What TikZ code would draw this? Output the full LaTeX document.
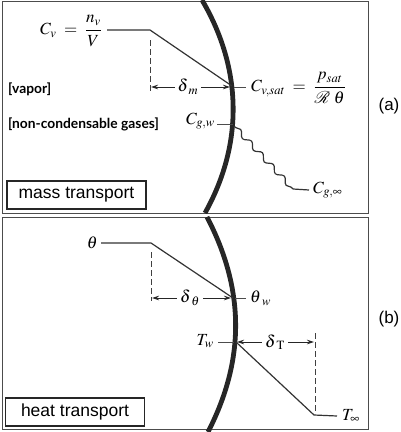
\documentclass[tikz,border=0pt]{standalone}
\usepackage{mathptmx}
\usepackage[no-math]{fontspec}
\setmainfont{Liberation Serif}
\setsansfont{Liberation Sans}
\newfontfamily\labfont{Lato}
\usetikzlibrary{decorations.pathmorphing,arrows.meta}
\begin{document}
\begin{tikzpicture}[x=1pt,y=-1pt,
  frame/.style={draw=black!70, line width=1pt},
  wall/.style={draw=black!85, line width=4.8pt},
  prof/.style={draw=black!80, line width=1.2pt},
  dimline/.style={draw=black!75, line width=0.8pt, dash pattern=on 6pt off 3pt},
  dimarrow/.style={draw=black!85, line width=0.8pt, -{Stealth[length=7pt,width=4.5pt]}},
  tick/.style={draw=black!70, line width=1pt},
  mth/.style={inner sep=0pt, font=\fontsize{17}{19}\selectfont},
  lab/.style={inner sep=0pt, anchor=west, font=\labfont\bfseries\fontsize{13.8}{15}\selectfont},
  tbox/.style={draw=black!85, line width=1.2pt, inner sep=0pt, minimum width=139pt, minimum height=28pt, font=\sffamily\fontsize{17.5}{19}\selectfont},
  panel/.style={inner sep=0pt, font=\sffamily\fontsize{17}{19}\selectfont}]
\useasboundingbox (0,0) rectangle (400,432);
% frames
\draw[frame] (2,1) rectangle (368,213);
\draw[frame] (2,217) rectangle (368,429);
% walls
\draw[wall] (202,0) .. controls (243,70) and (243,145) .. (205,213);
\draw[wall] (207,217) .. controls (245,290) and (245,360) .. (208,432);

% ---------- panel (a)
\node[mth, anchor=east] (cv) at (102,31) {$\displaystyle C_v \;=\; \frac{n_v}{V}$};
\coordinate (cvL) at (107,30);
\coordinate (cvK) at (150,30);
\coordinate (cvW) at (232,86);
\draw[prof] (cvL) -- (cvK) -- (cvW);
\coordinate (dmT) at (150,40);
\coordinate (dmB) at (150,93);
\draw[dimline] (dmT) -- (dmB);
\node[mth] (dm) at (188,87) {$\delta\kern0.5pt_m$};
\coordinate (dmL) at (151,87);
\coordinate (dmR) at (230,87);
\draw[dimarrow] (dm.west) ++(-3,0) coordinate (dmA) (dmA) -- (dmL);
\draw[dimarrow] (dm.east) ++(3,0) coordinate (dmC) (dmC) -- (dmR);
\node[mth, anchor=west] (cvsat) at (251,88) {$\displaystyle C_{v,sat} \;=\; \frac{p_{sat}}{\mathcal{R}\;\theta}$};
\coordinate (cvsW) at (234,87);
\draw[tick] (cvsW) -- (246,87);

\node[lab] (vap) at (8,89) {[vapor]};
\node[lab] (ncg) at (8,124) {[non-condensable gases]};

\node[mth, anchor=east] (cgw) at (215,121) {$C_{g,w}$};
\coordinate (gwT) at (217,124);
\coordinate (gwW) at (233,124);
\draw[tick] (gwT) -- (gwW);
\coordinate (gw0) at (234,126);
\coordinate (gw1) at (293,189);
\node[mth, anchor=west] (cginf) at (313,190) {$C_{g,\infty}$};
\draw[prof, decorate, decoration={snake, amplitude=2.5pt, segment length=16pt, pre length=2pt, post length=2pt}] (gw0) -- (gw1);
\draw[prof] (gw1) -- ([xshift=-4pt]cginf.west);

\node[tbox] (mt) at (76.5,195) {mass transport};
\node[panel] (pa) at (389,106) {(a)};

% ---------- panel (b)
\node[mth, anchor=east] (th) at (98,243) {$\theta$};
\coordinate (thL) at (101,243);
\coordinate (thK) at (151,243);
\coordinate (thW) at (233,298);
\draw[prof] (thL) -- (thK) -- (thW);
\coordinate (dtT) at (151,252);
\coordinate (dtB) at (151,301);
\draw[dimline] (dtT) -- (dtB);
\node[mth] (dt) at (190,298) {$\delta\kern1pt_\theta$};
\coordinate (dtL) at (152,298);
\coordinate (dtR) at (231,298);
\draw[dimarrow] (dt.west) ++(-3,0) coordinate (dtA) (dtA) -- (dtL);
\draw[dimarrow] (dt.east) ++(3,0) coordinate (dtC) (dtC) -- (dtR);
\node[mth, anchor=west] (thw) at (250,298) {$\theta\kern1pt_w$};
\coordinate (thwW) at (235,298);
\draw[tick] (thwW) -- (246,298);

\node[mth, anchor=east] (tw) at (214,341) {$T_w$};
\coordinate (twT) at (218,342);
\coordinate (twW) at (234,342);
\draw[tick] (twT) -- (twW);
\coordinate (tK) at (236,342);
\coordinate (tE) at (314,415);
\node[mth, anchor=west] (tinf) at (342,416) {$T_\infty$};
\draw[prof] (tK) -- (tE) -- ([xshift=-5pt]tinf.west);
\coordinate (dTT) at (315,333);
\coordinate (dTB) at (315,413);
\draw[dimline] (dTT) -- (dTB);
\node[mth] (dT) at (275,342) {$\delta\kern1pt_{\rm T}$};
\coordinate (dTL) at (237,342);
\coordinate (dTR) at (314,342);
\draw[dimarrow] (dT.west) ++(-3,0) coordinate (dTA) (dTA) -- (dTL);
\draw[dimarrow] (dT.east) ++(3,0) coordinate (dTC) (dTC) -- (dTR);

\node[tbox] (ht) at (75,412) {heat transport};
\node[panel] (pb) at (389,319) {(b)};
\end{tikzpicture}
\end{document}
